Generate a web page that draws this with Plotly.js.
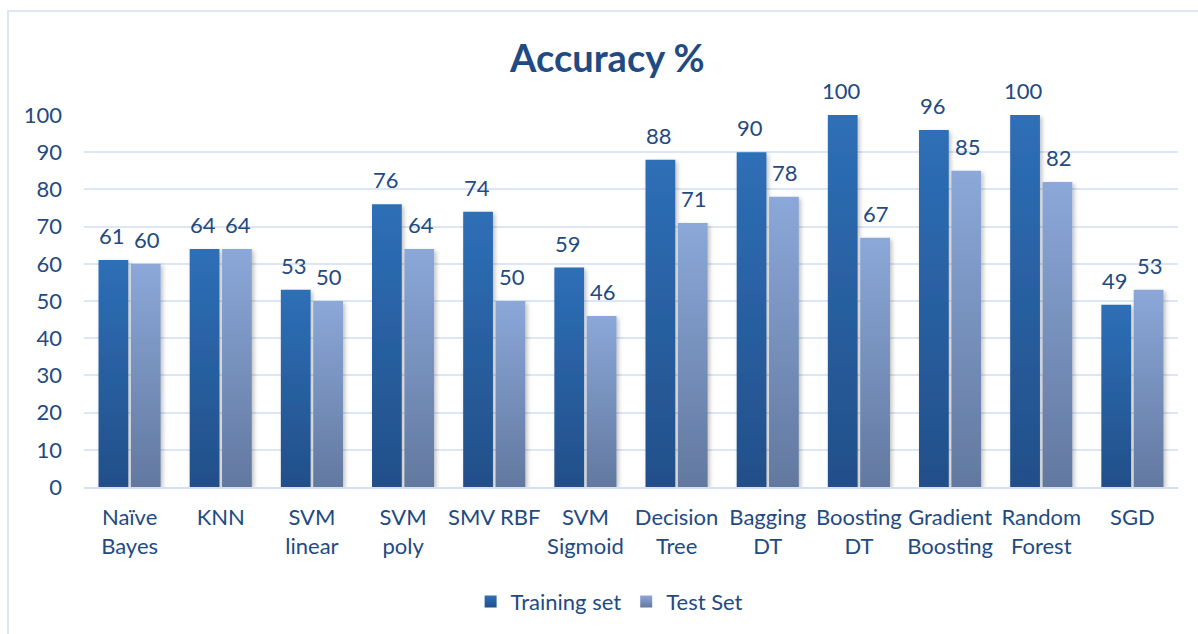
<!DOCTYPE html>
<html>
<head>
<meta charset="utf-8">
<script src="https://cdn.plot.ly/plotly-3.0.1.min.js"></script>
<style>
  html, body { margin: 0; padding: 0; background: #fff; }
  #wrap { position: relative; width: 1198px; height: 634px; overflow: hidden; }
  #chart { position: absolute; left: 0; top: 0; width: 1198px; height: 634px; }
  #frame { position: absolute; left: 7px; top: 10px; width: 1300px; height: 700px;
           border-left: 2px solid #DCE6F4; border-top: 2px solid #DCE6F4; pointer-events: none; }
</style>
</head>
<body>
<div id="wrap">
  <div id="chart"></div>
  <div id="frame"></div>
</div>
<script>
const categories = ["Naïve<br>Bayes", "KNN", "SVM<br>linear", "SVM<br>poly", "SMV RBF", "SVM<br>Sigmoid",
                    "Decision<br>Tree", "Bagging<br>DT", "Boosting<br>DT", "Gradient<br>Boosting", "Random<br>Forest", "SGD"];
const trainingSet = [61, 64, 53, 76, 74, 59, 88, 90, 100, 96, 100, 49];
const testSet     = [60, 64, 50, 64, 50, 46, 71, 78, 67, 85, 82, 53];
const seriesNames = ["Training set", "Test Set"];
const yTicks = [0, 10, 20, 30, 40, 50, 60, 70, 80, 90, 100];

const textColor = "#1F4A82";
const font = "Lato, 'Open Sans', sans-serif";

const traces = [
  { type: "bar", name: seriesNames[0], x: categories, y: trainingSet,
    marker: { color: "#2A62A6" }, hoverinfo: "none" },
  { type: "bar", name: seriesNames[1], x: categories, y: testSet,
    marker: { color: "#7A94C2" }, hoverinfo: "none" }
];

// data labels above each bar
const annotations = [];
const barShift = 17.5;
[trainingSet, testSet].forEach((vals, s) => {
  vals.forEach((v, i) => {
    annotations.push({
      x: categories[i], y: v, xref: "x", yref: "y",
      text: String(v), showarrow: false,
      xanchor: "center", yanchor: "bottom",
      xshift: s === 0 ? -barShift : barShift, yshift: 9,
      font: { family: font, size: 22, color: textColor }
    });
  });
});

const layout = {
  width: 1198, height: 634,
  margin: { l: 84, r: 20, t: 115, b: 146 },
  paper_bgcolor: "rgba(0,0,0,0)", plot_bgcolor: "rgba(0,0,0,0)",
  title: { text: "<b>Accuracy %</b>", x: 0.507, xanchor: "center", y: 0.907, yanchor: "middle",
           font: { family: font, size: 38, color: textColor } },
  barmode: "group", bargap: 0.29, bargroupgap: 0.08,
  showlegend: true,
  legend: { orientation: "h", x: 0.48, xanchor: "center", y: -0.305, yanchor: "middle",
            font: { family: font, size: 22, color: textColor }, itemwidth: 30, tracegroupgap: 0 },
  xaxis: { type: "category", showgrid: false, showline: true, linecolor: "#D3E0F1", linewidth: 2,
           ticks: "", ticklabelstandoff: 10,
           tickfont: { family: font, size: 22, color: textColor }, fixedrange: true },
  yaxis: { range: [0, 100], tickvals: yTicks, ticktext: yTicks.map(String),
           showgrid: true, gridcolor: "#DCE6F4", gridwidth: 2, zeroline: false, showline: false,
           ticks: "", ticklabelstandoff: 21,
           tickfont: { family: font, size: 22, color: textColor }, fixedrange: true },
  annotations: annotations
};

Plotly.newPlot("chart", traces, layout, { displayModeBar: false, staticPlot: true }).then(gd => {
  const ns = "http://www.w3.org/2000/svg";
  const svg = gd.querySelector(".main-svg");
  let defs = svg.querySelector("defs");
  if (!defs) { defs = document.createElementNS(ns, "defs"); svg.insertBefore(defs, svg.firstChild); }
  function grad(id, top, bottom) {
    const g = document.createElementNS(ns, "linearGradient");
    g.setAttribute("id", id); g.setAttribute("x1", "0"); g.setAttribute("y1", "0");
    g.setAttribute("x2", "0"); g.setAttribute("y2", "1");
    [[0, top], [1, bottom]].forEach(([o, c]) => {
      const s = document.createElementNS(ns, "stop");
      s.setAttribute("offset", o); s.setAttribute("stop-color", c);
      g.appendChild(s);
    });
    defs.appendChild(g);
  }
  grad("gTrain", "#2E6FB7", "#224F89");
  grad("gTest", "#8BA8D9", "#62789F");
  const f = document.createElementNS(ns, "filter");
  f.setAttribute("id", "shadow"); f.setAttribute("x", "-30%"); f.setAttribute("y", "-10%");
  f.setAttribute("width", "160%"); f.setAttribute("height", "120%");
  const ds = document.createElementNS(ns, "feDropShadow");
  ds.setAttribute("dx", "2"); ds.setAttribute("dy", "2"); ds.setAttribute("stdDeviation", "2");
  ds.setAttribute("flood-color", "#000"); ds.setAttribute("flood-opacity", "0.25");
  f.appendChild(ds); defs.appendChild(f);
  const ids = ["gTrain", "gTest"];
  gd.querySelectorAll(".barlayer .trace.bars").forEach((t, k) => {
    t.querySelectorAll("path").forEach(p => { p.style.fill = "url(#" + ids[k] + ")"; p.style.filter = "url(#shadow)"; });
  });
  gd.querySelectorAll(".legend .traces").forEach((t, k) => {
    t.querySelectorAll(".legendpoints path").forEach(p => { p.style.fill = "url(#" + ids[k] + ")"; });
  });
});
</script>
</body>
</html>
